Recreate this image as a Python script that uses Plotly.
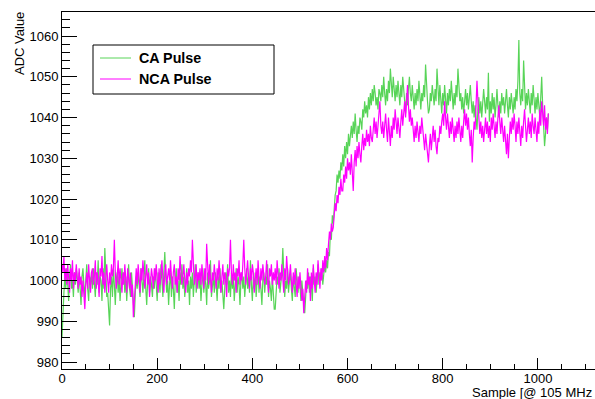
import plotly.graph_objects as go

# ADC samples of the two pulses, one value every second sample (0, 2, 4, ... 1022)
sample = list(range(0, 1024, 2))

ca_pulse = [
    986, 993, 997, 1001, 998, 1003, 999, 995, 1001, 1004, 998, 1000, 996, 1002, 999, 1003,
    1000, 997, 1002, 998, 994, 1001, 1003, 999, 996, 1000, 1004, 998, 995, 1001, 999, 1002,
    998, 1003, 1000, 996, 1002, 999, 1005, 997, 1001, 1000, 995, 1003, 998, 1008, 1002, 996,
    997, 993, 989, 998, 1001, 996, 1003, 999, 994, 1000, 1002, 997, 1001, 995, 999, 1003,
    999, 1002, 997, 1001, 995, 1000, 1004, 998, 996, 1002, 999, 994, 991, 997, 1001, 998,
    1002, 999, 996, 1003, 1000, 997, 1001, 1005, 998, 994, 1000, 1003, 997, 1001, 999, 996,
    1001, 998, 1003, 999, 995, 1002, 1000, 997, 1004, 999, 996, 1002, 1007, 1001, 997, 1000,
    994, 999, 1002, 996, 1001, 998, 993, 1000, 1003, 997, 1000, 995, 1002, 999, 1004, 998,
    1001, 996, 999, 1003, 997, 1000, 994, 1001, 998, 1002, 996, 1000, 1004, 997, 999, 1002,
    998, 1001, 995, 1000, 1003, 997, 1001, 999, 994, 1002, 998, 1000, 1005, 996, 999, 1001,
    997, 1002, 999, 995, 1001, 998, 1003, 997, 1000, 996, 993, 998, 1002, 999, 1004, 997,
    1000, 996, 1002, 998, 1001, 995, 999, 1003, 997, 1001, 999, 994, 1000, 1002, 998, 1001,
    996, 1000, 1003, 998, 1001, 997, 1005, 999, 995, 1001, 998, 1002, 996, 1000, 1003, 997,
    1001, 998, 994, 1000, 1002, 997, 1001, 999, 1004, 996, 1000, 998, 995, 1001, 997, 993,
    993, 997, 1001, 999, 1003, 997, 1000, 1002, 1008, 1001, 996, 1000, 998, 1003, 997, 1000,
    1002, 998, 995, 1001, 999, 996, 1003, 1000, 997, 1001, 999, 995, 1000, 997, 994, 992,
    996, 1000, 998, 1002, 997, 1001, 999, 995, 1003, 999, 1001, 997, 1000, 1004, 999, 1002,
    1000, 1003, 999, 1001, 1004, 1002, 1005, 1003, 1007, 1006, 1012, 1010, 1016, 1014, 1018, 1021,
    1022, 1026, 1024, 1027, 1025, 1029, 1027, 1031, 1028, 1033, 1030, 1034, 1031, 1036, 1033, 1037,
    1038, 1035, 1039, 1036, 1041, 1037, 1034, 1038, 1036, 1040, 1039, 1037, 1042, 1040, 1044, 1041,
    1043, 1040, 1045, 1042, 1046, 1043, 1047, 1044, 1048, 1046, 1043, 1045, 1042, 1047, 1046, 1044,
    1048, 1045, 1050, 1046, 1043, 1047, 1044, 1049, 1046, 1052, 1048, 1045, 1050, 1047, 1044, 1048,
    1045, 1049, 1046, 1043, 1048, 1045, 1050, 1047, 1044, 1041, 1046, 1043, 1047, 1050, 1046, 1044,
    1048, 1045, 1042, 1046, 1043, 1047, 1044, 1049, 1045, 1042, 1046, 1044, 1048, 1045, 1053, 1047,
    1044, 1041, 1042, 1046, 1044, 1048, 1045, 1043, 1047, 1044, 1052, 1046, 1043, 1048, 1045, 1041,
    1046, 1043, 1048, 1044, 1041, 1046, 1043, 1047, 1044, 1049, 1045, 1042, 1046, 1043, 1048, 1045,
    1052, 1047, 1044, 1046, 1042, 1045, 1041, 1044, 1047, 1043, 1046, 1042, 1045, 1048, 1044, 1041,
    1044, 1040, 1043, 1039, 1037, 1042, 1045, 1041, 1044, 1040, 1043, 1047, 1044, 1041, 1045, 1042,
    1051, 1039, 1044, 1041, 1046, 1042, 1045, 1040, 1043, 1047, 1043, 1040, 1044, 1041, 1046, 1043,
    1045, 1041, 1044, 1047, 1043, 1040, 1045, 1042, 1046, 1043, 1041, 1045, 1042, 1047, 1044, 1049,
    1059, 1046, 1043, 1047, 1044, 1054, 1045, 1042, 1046, 1043, 1047, 1044, 1041, 1046, 1043, 1048,
    1044, 1041, 1045, 1042, 1046, 1043, 1040, 1045, 1050, 1043, 1039, 1033, 1036, 1040, 1037, 1041,
]

nca_pulse = [
    1004, 1002, 1006, 1000, 1003, 999, 1004, 1001, 997, 1003, 1000, 1005, 998, 1002, 1000, 1004,
    1001, 998, 1003, 999, 1001, 996, 1000, 997, 993, 999, 1002, 998, 1004, 1000, 997, 1002,
    1003, 999, 1001, 1005, 998, 1002, 1000, 996, 1003, 1001, 1006, 999, 1002, 997, 1001, 1004,
    1000, 997, 1002, 999, 1004, 1001, 1003, 1010, 1002, 998, 1001, 1005, 999, 1003, 1000, 997,
    1002, 999, 1004, 1000, 997, 1003, 1001, 998, 1002, 996, 999, 991, 995, 1000, 1003, 999,
    1004, 1001, 997, 1003, 1000, 1005, 1002, 998, 1001, 1004, 999, 1002, 996, 1000, 1003, 1001,
    998, 1003, 1000, 1004, 1001, 997, 1003, 999, 1002, 1005, 1000, 997, 1002, 1004, 999, 1001,
    1003, 1000, 1005, 1001, 998, 1002, 1004, 999, 1001, 997, 1003, 1000, 1006, 1002, 999, 1001,
    1004, 1000, 997, 1002, 999, 1003, 1001, 1005, 1002, 1010, 1003, 999, 1001, 1004, 998, 1002,
    1000, 1003, 999, 1004, 1001, 998, 1003, 1000, 1009, 1002, 999, 1004, 1001, 997, 1002, 1000,
    1004, 1001, 998, 1003, 1000, 1005, 1002, 997, 1001, 1004, 999, 1002, 1000, 996, 1003, 1001,
    1003, 1010, 1002, 999, 1004, 1000, 1002, 997, 1003, 1001, 1005, 999, 1002, 1000, 1004, 1010,
    1003, 999, 1002, 1005, 1001, 998, 1003, 1000, 1004, 1002, 997, 1001, 1003, 999, 1005, 1001,
    998, 1003, 1000, 1004, 1002, 999, 1001, 1005, 1000, 997, 1003, 1001, 1004, 999, 1002, 1000,
    1003, 999, 1005, 1001, 998, 1002, 1000, 1004, 1001, 997, 1003, 1000, 1006, 1002, 999, 1001,
    1004, 1000, 997, 1002, 999, 1003, 1000, 996, 1001, 998, 1002, 999, 995, 998, 992, 996,
    1000, 997, 1003, 999, 1001, 995, 1002, 998, 1004, 1000, 997, 1002, 999, 1005, 1001, 998,
    1003, 1000, 1005, 1002, 1006, 1003, 1008, 1005, 1009, 1012, 1010, 1014, 1012, 1013, 1016, 1019,
    1017, 1021, 1019, 1023, 1021, 1025, 1022, 1022, 1026, 1024, 1028, 1025, 1030, 1027, 1029, 1026,
    1031, 1027, 1022, 1029, 1032, 1028, 1033, 1030, 1034, 1031, 1029, 1033, 1036, 1032, 1035, 1033,
    1037, 1034, 1036, 1033, 1038, 1035, 1034, 1037, 1040, 1036, 1039, 1035, 1038, 1041, 1044, 1038,
    1036, 1039, 1035, 1038, 1041, 1037, 1034, 1040, 1036, 1033, 1038, 1035, 1040, 1037, 1042, 1039,
    1036, 1040, 1037, 1035, 1039, 1042, 1038, 1041, 1044, 1040, 1045, 1048, 1043, 1039, 1042, 1038,
    1040, 1036, 1034, 1038, 1035, 1039, 1037, 1034, 1038, 1036, 1040, 1037, 1035, 1032, 1036, 1033,
    1031, 1029, 1033, 1036, 1032, 1035, 1038, 1034, 1037, 1033, 1031, 1035, 1034, 1038, 1036, 1039,
    1041, 1038, 1044, 1040, 1037, 1041, 1038, 1035, 1039, 1036, 1040, 1037, 1034, 1038, 1035, 1039,
    1036, 1040, 1037, 1034, 1038, 1035, 1039, 1042, 1038, 1041, 1037, 1040, 1036, 1033, 1037, 1029,
    1035, 1039, 1037, 1042, 1049, 1044, 1040, 1036, 1039, 1035, 1038, 1034, 1037, 1040, 1036, 1039,
    1035, 1038, 1034, 1040, 1037, 1041, 1038, 1035, 1039, 1036, 1040, 1043, 1039, 1036, 1040, 1037,
    1034, 1038, 1035, 1031, 1036, 1030, 1035, 1039, 1036, 1040, 1037, 1041, 1038, 1034, 1039, 1036,
    1040, 1037, 1033, 1038, 1035, 1039, 1042, 1038, 1034, 1037, 1040, 1036, 1039, 1035, 1041, 1038,
    1036, 1040, 1037, 1034, 1039, 1036, 1042, 1038, 1044, 1041, 1038, 1043, 1037, 1040, 1036, 1041,
]

series_names = ["CA Pulse", "NCA Pulse"]
series_colors = ["#58d458", "#ff00ff"]

W, H = 595, 399
ML, MR, MT, MB = 62, 0, 12, 30
PW, PH = W - ML - MR, H - MT - MB
FONT = "Liberation Sans, Arial, Helvetica, sans-serif"


def px(x):
    return (x - ML) / PW


def py(y):
    return (H - MB - y) / PH


fig = go.Figure()
for name, ys, col in zip(series_names, [ca_pulse, nca_pulse], series_colors):
    fig.add_trace(go.Scatter(x=sample, y=ys, mode="lines", name=name,
                             line=dict(color=col, width=1.2), showlegend=False))

axis_common = dict(showgrid=False, zeroline=False, showline=True, linecolor="black",
                   linewidth=1, ticks="inside", tickcolor="black", tickwidth=1,
                   tickfont=dict(family=FONT, size=13, color="black"))

fig.update_xaxes(range=[0, 1120], tick0=0, dtick=200, ticklen=11, mirror=True,
                 ticklabelstandoff=-3,
                 minor=dict(dtick=50, tick0=0, ticklen=5, ticks="inside", tickcolor="black"),
                 **axis_common)
fig.update_yaxes(range=[978.3, 1065.9], tick0=980, dtick=10, ticklen=15,
                 minor=dict(dtick=2, tick0=980, ticklen=8, ticks="inside", tickcolor="black"),
                 **axis_common)

shapes = [
    dict(type="rect", xref="paper", yref="paper", x0=px(93), x1=px(274), y0=py(94), y1=py(45),
         line=dict(color="black", width=1), fillcolor="white", layer="above"),
    dict(type="line", xref="paper", yref="paper", x0=px(100), x1=px(131), y0=py(58), y1=py(58),
         line=dict(color=series_colors[0], width=1), layer="above"),
    dict(type="line", xref="paper", yref="paper", x0=px(100), x1=px(131), y0=py(79), y1=py(79),
         line=dict(color=series_colors[1], width=1), layer="above"),
]

annotations = [
    dict(text="<b>" + series_names[0] + "</b>", xref="paper", yref="paper", x=px(137), y=py(58),
         xanchor="left", yanchor="middle", showarrow=False,
         font=dict(family=FONT, size=14.3, color="black")),
    dict(text="<b>" + series_names[1] + "</b>", xref="paper", yref="paper", x=px(137), y=py(79),
         xanchor="left", yanchor="middle", showarrow=False,
         font=dict(family=FONT, size=14.3, color="black")),
    dict(text="ADC Value", xref="paper", yref="paper", x=px(19), y=py(44), textangle=-90,
         xanchor="center", yanchor="middle", showarrow=False,
         font=dict(family=FONT, size=13, color="black")),
    dict(text="Sample [@ 105 MHz", xref="paper", yref="paper", x=px(594), y=py(392),
         xanchor="right", yanchor="middle", showarrow=False,
         font=dict(family=FONT, size=13, color="black")),
]

fig.update_layout(width=W, height=H, margin=dict(l=ML, r=MR, t=MT, b=MB),
                  paper_bgcolor="white", plot_bgcolor="white",
                  shapes=shapes, annotations=annotations)

fig.write_html("out.html")
